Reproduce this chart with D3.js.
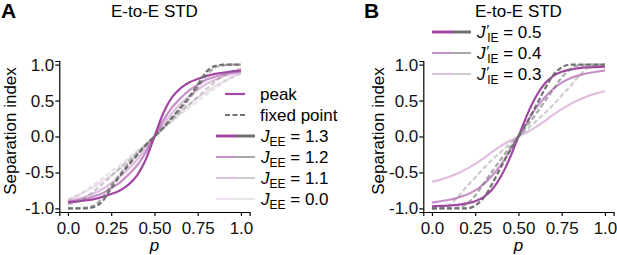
<!DOCTYPE html>
<html>
<head>
<meta charset="utf-8">
<script src="https://cdn.jsdelivr.net/npm/d3@7"></script>
<style>
  body { margin: 0; background: #fff; }
  svg { font-family: "Liberation Sans", Arial, sans-serif; }
</style>
</head>
<body>
<script>
// p values along x (0 .. 1)
let pGrid = [0, 0.05, 0.1, 0.15, 0.2, 0.25, 0.3, 0.35, 0.4, 0.45, 0.5,
             0.55, 0.6, 0.65, 0.7, 0.75, 0.8, 0.85, 0.9, 0.95, 1];

let xTicks = [0, 0.25, 0.5, 0.75, 1];
let xTickLabels = ['0.0', '0.25', '0.50', '0.75', '1.0'];
let yTicks = [-1, -0.5, 0, 0.5, 1];
let yTickLabels = ['-1.0', '-0.5', '0.0', '0.5', '1.0'];

// panel A : J_EE values
let jeeLabels = ['1.3', '1.2', '1.1', '0.0'];
let peakA13 = [-0.92, -0.905, -0.89, -0.87, -0.84, -0.80, -0.75, -0.67, -0.54, -0.32, 0, 0.32, 0.54, 0.67, 0.75, 0.80, 0.84, 0.87, 0.89, 0.905, 0.92];
let peakA12 = [-0.91, -0.89, -0.87, -0.83, -0.79, -0.72, -0.64, -0.53, -0.40, -0.22, 0, 0.22, 0.40, 0.53, 0.64, 0.72, 0.79, 0.83, 0.87, 0.89, 0.91];
let peakA11 = [-0.90, -0.87, -0.84, -0.79, -0.73, -0.65, -0.56, -0.45, -0.32, -0.17, 0, 0.17, 0.32, 0.45, 0.56, 0.65, 0.73, 0.79, 0.84, 0.87, 0.90];
let peakA00 = [-0.88, -0.83, -0.77, -0.70, -0.62, -0.54, -0.45, -0.35, -0.24, -0.12, 0, 0.12, 0.24, 0.35, 0.45, 0.54, 0.62, 0.70, 0.77, 0.83, 0.88];
let fixA13 = [-1, -1, -1, -0.98, -0.90, -0.72, -0.55, -0.40, -0.26, -0.12, 0, 0.12, 0.26, 0.40, 0.55, 0.72, 0.90, 0.98, 1, 1, 1];
let fixA12 = [-1, -1, -0.99, -0.96, -0.85, -0.68, -0.52, -0.38, -0.25, -0.12, 0, 0.12, 0.25, 0.38, 0.52, 0.68, 0.85, 0.96, 0.99, 1, 1];
let fixA11 = [-0.94, -0.91, -0.85, -0.76, -0.66, -0.55, -0.44, -0.33, -0.22, -0.11, 0, 0.11, 0.22, 0.33, 0.44, 0.55, 0.66, 0.76, 0.85, 0.91, 0.94];
let fixA00 = [-0.88, -0.82, -0.75, -0.67, -0.58, -0.49, -0.40, -0.30, -0.20, -0.10, 0, 0.10, 0.20, 0.30, 0.40, 0.49, 0.58, 0.67, 0.75, 0.82, 0.88];

// panel B : J'_IE values
let jieLabels = ['0.5', '0.4', '0.3'];
let peakB05 = [-0.97, -0.965, -0.96, -0.95, -0.93, -0.90, -0.84, -0.73, -0.55, -0.30, 0, 0.30, 0.55, 0.73, 0.84, 0.90, 0.93, 0.95, 0.96, 0.965, 0.97];
let peakB04 = [-0.92, -0.90, -0.88, -0.85, -0.81, -0.75, -0.66, -0.54, -0.39, -0.20, 0, 0.20, 0.39, 0.54, 0.66, 0.75, 0.81, 0.85, 0.88, 0.90, 0.92];
let peakB03 = [-0.63, -0.60, -0.56, -0.51, -0.45, -0.38, -0.30, -0.21, -0.13, -0.06, 0, 0.06, 0.13, 0.21, 0.30, 0.38, 0.45, 0.51, 0.56, 0.60, 0.63];
let fixB05 = [-1, -1, -1, -1, -1, -0.96, -0.85, -0.65, -0.42, -0.20, 0, 0.20, 0.42, 0.65, 0.85, 0.96, 1, 1, 1, 1, 1];
let fixB04 = [-1, -1, -1, -0.99, -0.94, -0.82, -0.65, -0.48, -0.31, -0.15, 0, 0.15, 0.31, 0.48, 0.65, 0.82, 0.94, 0.99, 1, 1, 1];
let fixB03 = [-1, -0.99, -0.95, -0.84, -0.70, -0.57, -0.44, -0.32, -0.21, -0.10, 0, 0.10, 0.21, 0.32, 0.44, 0.57, 0.70, 0.84, 0.95, 0.99, 1];

let purple = '#a246a4';
let gray = '#707070';
let fontSize = 17;

let svg = d3.select('body')
  .append('svg')
  .attr('width', 617)
  .attr('height', 255);

function drawPanel(opt) {
  let x = d3.scaleLinear().domain([-0.05, 1.05]).range([opt.left, opt.left + 190.3]);
  let y = d3.scaleLinear().domain([-1.05, 1.05]).range([212, 61]);

  let g = svg.append('g');

  // axes
  let xAxis = d3.axisBottom(x).tickValues(xTicks).tickSize(4).tickPadding(6)
    .tickFormat(function(d, i) { return xTickLabels[i]; });
  let yAxis = d3.axisLeft(y).tickValues(yTicks).tickSize(4).tickPadding(1)
    .tickFormat(function(d, i) { return yTickLabels[i]; });

  let gx = g.append('g').attr('transform', 'translate(0,212)').call(xAxis);
  let gy = g.append('g').attr('transform', 'translate(' + x(-0.05) + ',0)').call(yAxis);
  [gx, gy].forEach(function(a) {
    a.selectAll('path, line').attr('stroke', '#000').attr('stroke-width', 1.2);
    a.selectAll('text').attr('font-size', fontSize).attr('fill', '#111')
      .attr('font-family', '"Liberation Sans", Arial, sans-serif');
  });

  let line = d3.line()
    .x(function(d, i) { return x(pGrid[i]); })
    .y(function(d) { return y(d); })
    .curve(d3.curveMonotoneX);

  // solid purple (peak), lightest first
  opt.peaks.slice().reverse().forEach(function(s, k) {
    let i = opt.peaks.length - 1 - k;
    g.append('path').datum(s)
      .attr('d', line)
      .attr('fill', 'none')
      .attr('stroke', purple)
      .attr('stroke-opacity', opt.alphas[i])
      .attr('stroke-width', 2.2);
  });
  // dashed gray (fixed point)
  opt.fixes.slice().reverse().forEach(function(s, k) {
    let i = opt.fixes.length - 1 - k;
    g.append('path').datum(s)
      .attr('d', line)
      .attr('fill', 'none')
      .attr('stroke', gray)
      .attr('stroke-opacity', opt.alphas[i])
      .attr('stroke-width', 2.2)
      .attr('stroke-dasharray', '5,2.5');
  });

  // titles and labels
  g.append('text').attr('x', x(0.5)).attr('y', 17).attr('text-anchor', 'middle')
    .attr('font-size', fontSize).text('E-to-E STD');
  g.append('text').attr('x', opt.letterX).attr('y', 18)
    .attr('font-size', 21).attr('font-weight', 'bold').text(opt.letter);
  g.append('text').attr('x', x(0.5)).attr('y', 251).attr('text-anchor', 'middle')
    .attr('font-size', fontSize).attr('font-style', 'italic').text('p');
  g.append('text')
    .attr('transform', 'translate(' + opt.ylabX + ',131) rotate(-90)')
    .attr('text-anchor', 'middle')
    .attr('font-size', fontSize).text('Separation index');
  return g;
}

// legend item: purple half + gray half, then J label
function legendEntry(g, lx, ly, alpha, width, drawText) {
  g.append('line').attr('x1', lx).attr('x2', lx + 20).attr('y1', ly).attr('y2', ly)
    .attr('stroke', purple).attr('stroke-opacity', alpha).attr('stroke-width', width);
  g.append('line').attr('x1', lx + 20).attr('x2', lx + 39).attr('y1', ly).attr('y2', ly)
    .attr('stroke', gray).attr('stroke-opacity', alpha).attr('stroke-width', width);
  let t = g.append('text').attr('x', lx + 45).attr('y', ly + 6).attr('font-size', fontSize);
  drawText(t);
}

let alphasA = [1, 0.6, 0.35, 0.18];
let gA = drawPanel({
  left: 59.3, letter: 'A', letterX: 1, ylabX: 16,
  peaks: [peakA13, peakA12, peakA11, peakA00],
  fixes: [fixA13, fixA12, fixA11, fixA00],
  alphas: alphasA
});

// legend A
gA.append('line').attr('x1', 225).attr('x2', 245).attr('y1', 94).attr('y2', 94)
  .attr('stroke', purple).attr('stroke-width', 2.2);
gA.append('text').attr('x', 260).attr('y', 100).attr('font-size', fontSize).text('peak');
gA.append('line').attr('x1', 225).attr('x2', 245).attr('y1', 115).attr('y2', 115)
  .attr('stroke', gray).attr('stroke-width', 2.2).attr('stroke-dasharray', '5,2.5');
gA.append('text').attr('x', 260).attr('y', 121).attr('font-size', fontSize).text('fixed point');

jeeLabels.forEach(function(lab, i) {
  legendEntry(gA, 216, 136 + i * 21, alphasA[i], i == 0 ? 3 : 2, function(t) {
    t.append('tspan').attr('font-style', 'italic').text('J');
    t.append('tspan').attr('font-size', 12).attr('dy', 4).text('EE');
    t.append('tspan').attr('dy', -4).text(' = ' + lab);
  });
});

let alphasB = [1, 0.6, 0.35];
let gB = drawPanel({
  left: 423.3, letter: 'B', letterX: 364, ylabX: 384,
  peaks: [peakB05, peakB04, peakB03],
  fixes: [fixB05, fixB04, fixB03],
  alphas: alphasB
});

jieLabels.forEach(function(lab, i) {
  legendEntry(gB, 432, 32 + i * 21, alphasB[i], i == 0 ? 3 : 2, function(t) {
    t.append('tspan').attr('font-style', 'italic').text('J');
    t.append('tspan').attr('dx', 1).attr('dy', -3).attr('font-size', 14).text('\u2032');
    t.append('tspan').attr('dx', -2).attr('dy', 7).attr('font-size', 12).text('IE');
    t.append('tspan').attr('dy', -4).text(' = ' + lab);
  });
});
</script>
</body>
</html>
